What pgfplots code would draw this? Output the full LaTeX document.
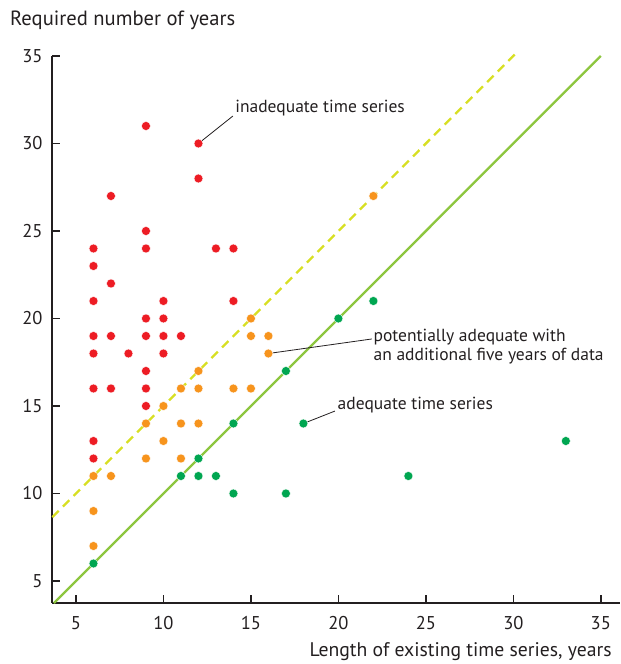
\documentclass[border=0pt]{standalone}
\usepackage{fontspec}
\setmainfont{PT Sans}
\usepackage{pgfplots}
\pgfplotsset{compat=1.18}
\definecolor{cred}{HTML}{ED1C24}
\definecolor{corange}{HTML}{F7941D}
\definecolor{cgreen}{HTML}{00A651}
\definecolor{csolid}{HTML}{8DC63F}
\definecolor{cdash}{HTML}{D7DF23}
\definecolor{ctext}{HTML}{231F20}
\begin{document}
\begin{tikzpicture}
\begin{axis}[
  scale only axis, width=568pt, height=547pt,
  xmin=3.63, xmax=36.1, ymin=3.74, ymax=35,
  axis x line=bottom, axis y line=left,
  axis line style={-, line width=1.6pt, color=ctext},
  xtick={5,10,...,35}, ytick={5,10,...,35},
  tick align=inside, major tick length=8pt,
  tick style={line width=1.6pt, color=ctext},
  /pgf/number format/assume math mode=true,
  ticklabel style={font=\fontsize{18.5}{20}\selectfont, text=ctext},
  xticklabel style={yshift=-10pt},
  yticklabel style={xshift=-6pt},
  clip=false,
]
\path (axis cs:0.657,38.2) rectangle (axis cs:36.14,0.257);
\addplot[csolid, line width=2.3pt] coordinates {(3.74,3.74) (35,35)};
\addplot[cdash, line width=2.3pt, dash pattern=on 9pt off 6pt] coordinates {(3.65,8.65) (30.1,35.1)};
% red: inadequate
\addplot[only marks, mark=*, mark size=4.5pt, mark options={fill=cred, draw=white, line width=0.4pt}] coordinates {
(6,24)(6,23)(6,21)(6,19)(6,18)(6,16)(6,13)(6,12)
(7,27)(7,22)(7,19)(7,16)
(8,18)
(9,31)(9,25)(9,24)(9,20)(9,19)(9,17)(9,16)(9,15)
(10,21)(10,20)(10,19)(10,18)
(11,19)
(12,30)(12,28)
(13,24)(14,24)(14,21)
};
% orange: potentially adequate
\addplot[only marks, mark=*, mark size=4.5pt, mark options={fill=corange, draw=white, line width=0.4pt}] coordinates {
(6,11)(6,9)(6,7)(7,11)
(9,14)(9,12)
(10,15)(10,13)
(11,16)(11,14)(11,12)
(12,17)(12,16)(12,14)
(14,16)
(15,20)(15,19)(15,16)
(16,19)(16,18)
(22,27)
};
% green: adequate
\addplot[only marks, mark=*, mark size=4.5pt, mark options={fill=cgreen, draw=white, line width=0.4pt}] coordinates {
(6,6)(11,11)(12,12)(12,11)(13,11)
(14,14)(14,10)(17,17)(17,10)(18,14)
(20,20)(22,21)(24,11)(33,13)
};
% annotations
\draw[ctext, line width=0.8pt] (axis cs:12,30) -- (axis cs:13.97,31.57);
\node[anchor=west, inner sep=0pt, text=ctext, font=\fontsize{17.5}{19}\selectfont] at (axis cs:14.1,32.03) {inadequate time series};
\draw[ctext, line width=0.8pt] (axis cs:16,18) -- (axis cs:21.91,18.83);
\node[anchor=west, inner sep=0pt, text=ctext, align=left, font=\fontsize{17.5}{19}\selectfont] at (axis cs:22.0,18.4) {potentially adequate with\\an additional five years of data};
\draw[ctext, line width=0.8pt] (axis cs:18,14) -- (axis cs:19.8,14.71);
\node[anchor=west, inner sep=0pt, text=ctext, font=\fontsize{17.5}{19}\selectfont] at (axis cs:19.95,15.06) {adequate time series};
% titles
\node[anchor=west, inner sep=0pt, text=ctext, font=\fontsize{20.6}{22}\selectfont] at (axis cs:1.23,37.06) {Required number of years};
\node[anchor=east, inner sep=0pt, text=ctext, font=\fontsize{19.7}{22}\selectfont] at (axis cs:35.63,0.94) {Length of existing time series, years};
\end{axis}
\end{tikzpicture}
\end{document}
